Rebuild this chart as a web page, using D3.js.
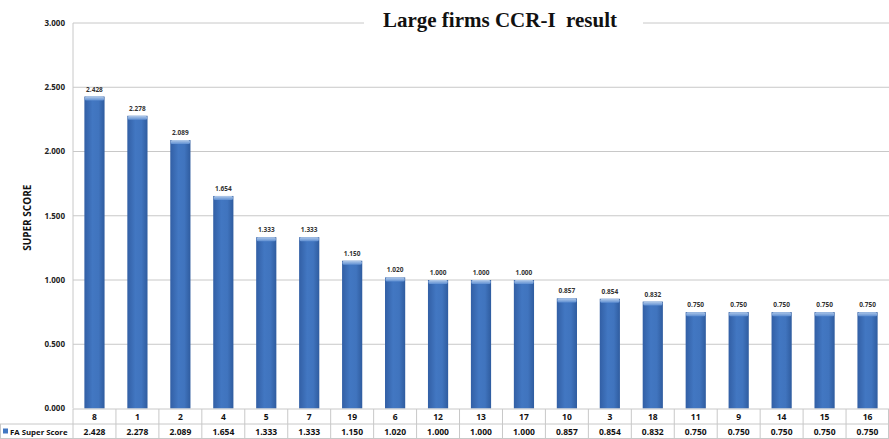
<!DOCTYPE html>
<html><head><meta charset="utf-8">
<script src="https://cdn.jsdelivr.net/npm/d3@7"></script>
<style>body{margin:0;background:#fff}svg{display:block}</style>
</head><body>
<script>
const categories = ["8","1","2","4","5","7","19","6","12","13","17","10","3","18","11","9","14","15","16"];
const values = [2.428,2.278,2.089,1.654,1.333,1.333,1.150,1.020,1.000,1.000,1.000,0.857,0.854,0.832,0.750,0.750,0.750,0.750,0.750];
const yTicks = [0,0.5,1,1.5,2,2.5,3];
const seriesName = "FA Super Score";
const title = "Large firms CCR-I  result";
const yLabel = "SUPER SCORE";

(function(){
const W=889,H=439;
const pL=73,pR=889,pT=23,pB=408.5;
const svg=d3.select("body").append("svg").attr("width",W).attr("height",H);
const defs=svg.append("defs");
const g1=defs.append("linearGradient").attr("id","barg").attr("x1","0").attr("x2","1").attr("y1","0").attr("y2","0");
g1.append("stop").attr("offset","0%").attr("stop-color","#325fa5");
g1.append("stop").attr("offset","40%").attr("stop-color","#4277c2");
g1.append("stop").attr("offset","70%").attr("stop-color","#4074be");
g1.append("stop").attr("offset","100%").attr("stop-color","#2f5c9f");
const g2=defs.append("linearGradient").attr("id","capg").attr("x1","0").attr("x2","0").attr("y1","0").attr("y2","1");
g2.append("stop").attr("offset","0%").attr("stop-color","#b3cbea");
g2.append("stop").attr("offset","100%").attr("stop-color","#5f8fd2");

const x=d3.scaleBand().domain(categories).range([pL,pR]).paddingInner(0.53).paddingOuter(0.265);
const y=d3.scaleLinear().domain([0,3]).range([pB,pT]);
const sans="'Open Sans', 'DejaVu Sans', sans-serif";

const grid=svg.append("g");
yTicks.forEach(t=>{
  if(t===3){
    grid.append("line").attr("x1",pL).attr("x2",364).attr("y1",y(t)).attr("y2",y(t)).attr("stroke","#c8c8c8");
    grid.append("line").attr("x1",643).attr("x2",pR).attr("y1",y(t)).attr("y2",y(t)).attr("stroke","#c8c8c8");
  } else if(t>0){
    grid.append("line").attr("x1",pL).attr("x2",pR).attr("y1",y(t)).attr("y2",y(t)).attr("stroke","#c8c8c8");
  }
});
svg.append("line").attr("x1",pL).attr("x2",pL).attr("y1",pT).attr("y2",pB).attr("stroke","#c8c8c8");

const yAxis=d3.axisLeft(y).tickValues(yTicks).tickFormat(d3.format(".3f")).tickSize(0).tickPadding(8);
const ya=svg.append("g").attr("transform",`translate(${pL},0)`).call(yAxis);
ya.select(".domain").remove();
ya.selectAll("text").attr("font-family",sans).attr("font-size",8).attr("font-weight","bold").attr("fill","#222").attr("dy","0.3em");

svg.append("text").attr("transform",`translate(31,${(pT+pB)/2+2}) rotate(-90)`).attr("text-anchor","middle")
  .attr("font-family",sans).attr("font-size",10).attr("font-weight","bold").attr("fill","#111").text(yLabel);

svg.append("text").attr("x",500).attr("y",27).attr("text-anchor","middle").style("white-space","pre")
  .attr("font-family","'Liberation Serif','Times New Roman',serif").attr("font-size",21).attr("font-weight","bold").attr("fill","#111").text(title);

const bars=svg.append("g");
categories.forEach((c,i)=>{
  const v=values[i];
  bars.append("rect").attr("x",x(c)).attr("y",y(v)).attr("width",x.bandwidth()).attr("height",pB-y(v)).attr("fill","url(#barg)");
  bars.append("rect").attr("x",x(c)+0.5).attr("y",y(v)).attr("width",x.bandwidth()-1).attr("height",4).attr("rx",1.5).attr("fill","url(#capg)");
  bars.append("text").attr("x",x(c)+x.bandwidth()/2).attr("y",y(v)-5).attr("text-anchor","middle")
    .attr("font-family",sans).attr("font-size",6.5).attr("font-weight","bold").attr("fill","#333").text(d3.format(".3f")(v));
});

const t=svg.append("g");
const r1=pB+0.5, r2=424, r3=439;
const step=x.step();
const colL=i=>pL+i*step;
t.append("line").attr("x1",pL).attr("x2",pR).attr("y1",r1).attr("y2",r1).attr("stroke","#c8c8c8");
t.append("line").attr("x1",0).attr("x2",pR).attr("y1",r2).attr("y2",r2).attr("stroke","#c8c8c8");
t.append("line").attr("x1",0).attr("x2",pR).attr("y1",r3-0.5).attr("y2",r3-0.5).attr("stroke","#c8c8c8");
t.append("line").attr("x1",0.5).attr("x2",0.5).attr("y1",r2).attr("y2",r3).attr("stroke","#c8c8c8");
for(let i=0;i<=categories.length;i++){
  const xx=Math.min(colL(i),pR-0.5);
  t.append("line").attr("x1",xx).attr("x2",xx).attr("y1",r1).attr("y2",r3).attr("stroke","#c8c8c8");
}
categories.forEach((c,i)=>{
  const cx=x(c)+x.bandwidth()/2;
  t.append("text").attr("x",cx).attr("y",(r1+r2)/2+3).attr("text-anchor","middle")
    .attr("font-family",sans).attr("font-size",8.5).attr("font-weight","bold").attr("fill","#111").text(c);
  t.append("text").attr("x",cx).attr("y",(r2+r3)/2+3).attr("text-anchor","middle")
    .attr("font-family",sans).attr("font-size",8.5).attr("font-weight","bold").attr("fill","#111").text(d3.format(".3f")(values[i]));
});
t.append("rect").attr("x",3).attr("y",(r2+r3)/2-3).attr("width",5).attr("height",5).attr("fill","#4277c2");
t.append("text").attr("x",10).attr("y",(r2+r3)/2+3).attr("font-family",sans).attr("font-size",7.8).attr("font-weight","bold").attr("fill","#111").text(seriesName);
})();
</script>
</body></html>
